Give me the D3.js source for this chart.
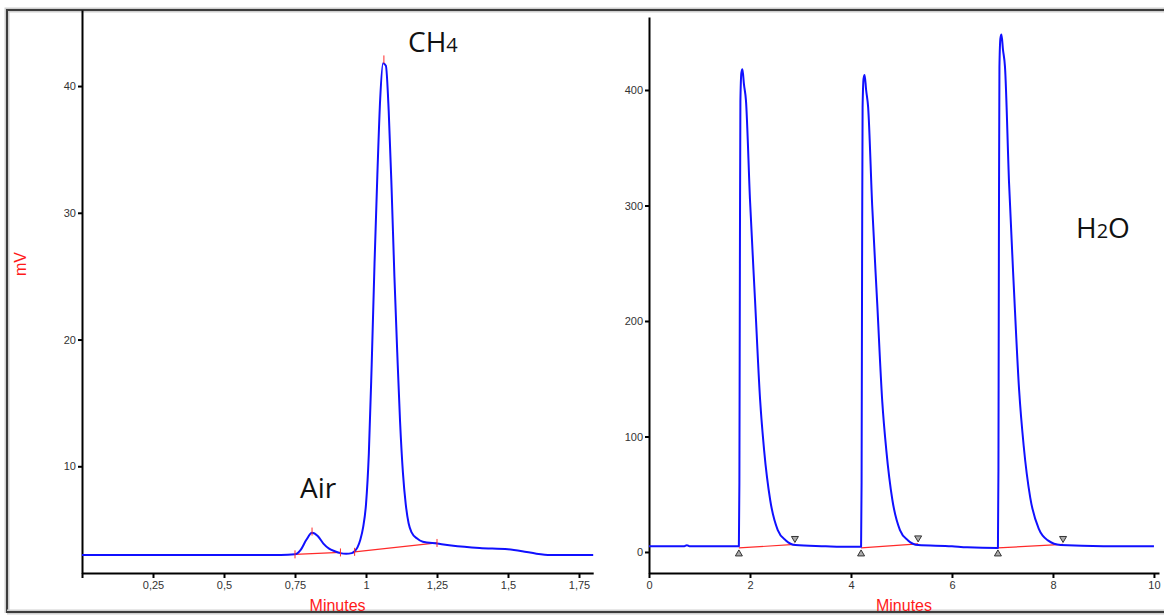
<!DOCTYPE html>
<html><head><meta charset="utf-8">
<script src="https://cdn.jsdelivr.net/npm/d3@7"></script>
<style>
html,body{margin:0;padding:0;background:#fff;}
svg{display:block;}
.tick text{font-family:"Liberation Sans",Arial,sans-serif;font-size:11px;fill:#333;}
</style></head>
<body>
<svg id="chart" width="1164" height="615"></svg>
<script>
// ---------- DATA ----------
// Left chromatogram (Air / CH4), minutes vs mV
const leftTime   = [0, 0.25, 0.5, 0.70, 0.75, 0.77, 0.79, 0.81, 0.83, 0.85, 0.87, 0.89, 0.91, 0.93, 0.95, 0.96, 0.97, 0.98, 0.99, 1.00, 1.01, 1.02, 1.03, 1.04, 1.05, 1.06, 1.07, 1.08, 1.09, 1.10, 1.11, 1.12, 1.13, 1.14, 1.15, 1.16, 1.18, 1.20, 1.25, 1.30, 1.40, 1.50, 1.55, 1.60, 1.65, 1.80];
const leftSignal = [3.0, 3.0, 3.0, 3.0, 3.05, 3.4, 4.2, 4.75, 4.5, 3.9, 3.5, 3.3, 3.15, 3.1, 3.15, 3.3, 3.6, 4.2, 5.2, 7.0, 11, 18, 26, 33, 39, 41.8, 41.6, 38, 32, 25, 19, 13.5, 9.5, 7.0, 5.5, 4.8, 4.3, 4.05, 3.9, 3.75, 3.55, 3.45, 3.3, 3.1, 3.0, 3.0];
// Left integration baselines
const leftBaseT0 = [0.75, 0.96], leftBaseV0 = [3.05, 3.25];
const leftBaseT1 = [0.91, 1.25], leftBaseV1 = [3.2, 3.95];
const leftPeakT = [0.81, 1.063], leftPeakV = [4.85, 42.1];

// Right chromatogram (H2O), minutes vs mV
const rightTime   = [0, 0.70, 0.75, 0.80, 1.77, 1.78, 1.79, 1.80, 1.81, 1.83, 1.85, 1.88, 1.92, 2.00, 2.10, 2.20, 2.28, 2.40, 2.55, 2.71, 2.90, 3.50, 3.80, 4.19, 4.20, 4.21, 4.22, 4.23, 4.25, 4.27, 4.30, 4.34, 4.42, 4.52, 4.62, 4.70, 4.82, 4.97, 5.13, 5.33, 6.00, 6.30, 6.90, 6.91, 6.92, 6.93, 6.94, 6.96, 6.98, 7.01, 7.05, 7.13, 7.23, 7.33, 7.42, 7.55, 7.72, 7.90, 8.15, 9.00, 10.0];
const rightSignal = [5, 5, 5.8, 5, 5, 5, 60, 250, 390, 415, 418, 405, 391, 305, 218, 132, 88, 45, 19, 10, 6, 5, 4.5, 4.5, 4.5, 60, 250, 385, 410, 413, 400, 385, 300, 215, 130, 88, 45, 19, 10, 6, 5, 4, 3.5, 3.5, 70, 280, 420, 445, 448, 435, 420, 320, 225, 140, 92, 47, 20, 10, 6, 5, 5];
// Right integration baselines (start / end markers)
const rightBaseT0 = [1.78, 4.20, 6.91], rightBaseV0 = [3.5, 3.5, 3.5];
const rightBaseT1 = [2.89, 5.33, 8.20], rightBaseV1 = [6.5, 7.0, 6.5];

// Ticks
const leftXTicks = [0, 0.25, 0.5, 0.75, 1, 1.25, 1.5, 1.75];
const leftXLabels = ["", "0,25", "0,5", "0,75", "1", "1,25", "1,5", "1,75"];
const leftYTicks = [10, 20, 30, 40];
const rightXTicks = [0, 2, 4, 6, 8, 10];
const rightYTicks = [0, 100, 200, 300, 400];

// ---------- DRAW ----------
const svg = d3.select("#chart");
const blue = "#1010ff", red = "#ff2a2a";

// frame
svg.append("path").attr("d", "M7,613 L7,10 L1164,10").attr("fill","none").attr("stroke","#cfcfcf").attr("stroke-width",5);
svg.append("path").attr("d", "M7,613 L7,10 L1164,10").attr("fill","none").attr("stroke","#3c3c3c").attr("stroke-width",2);
svg.append("line").attr("x1",7).attr("x2",1164).attr("y1",612).attr("y2",612).attr("stroke","#cfcfcf").attr("stroke-width",5);
svg.append("line").attr("x1",7).attr("x2",1164).attr("y1",612).attr("y2",612).attr("stroke","#3c3c3c").attr("stroke-width",2);

function panel(cfg){
  const x = d3.scaleLinear().domain(cfg.xDomain).range(cfg.xRange);
  const y = d3.scaleLinear().domain(cfg.yDomain).range(cfg.yRange);
  const g = svg.append("g");
  // x axis
  const xa = g.append("g").attr("transform", `translate(0,${cfg.yRange[0]})`)
    .call(d3.axisBottom(x).tickValues(cfg.xTicks).tickSize(5).tickSizeOuter(0).tickPadding(3)
      .tickFormat((d,i)=>cfg.xLabels ? cfg.xLabels[i] : d3.format("d")(d)));
  // y axis
  const ya = g.append("g").attr("transform", `translate(${cfg.xRange[0]},0)`)
    .call(d3.axisLeft(y).tickValues(cfg.yTicks).tickSize(4).tickSizeOuter(0).tickPadding(2).tickFormat(d3.format("d")));
  [xa, ya].forEach(a=>{
    a.select(".domain").attr("stroke","#000").attr("stroke-width",2);
    a.selectAll(".tick line").attr("stroke","#000").attr("stroke-width",2);
  });
  // baselines
  const bl = g.append("g");
  cfg.b0t.forEach((t0,i)=>{
    bl.append("line").attr("x1",x(t0)).attr("y1",y(cfg.b0v[i]))
      .attr("x2",x(cfg.b1t[i])).attr("y2",y(cfg.b1v[i]))
      .attr("stroke",red).attr("stroke-width",1.2);
  });
  // signal
  const line = d3.line().x((d,i)=>x(cfg.t[i])).y((d,i)=>y(cfg.v[i])).curve(d3.curveMonotoneX);
  g.append("path").datum(cfg.t).attr("d", line).attr("fill","none")
    .attr("stroke",blue).attr("stroke-width",2).attr("stroke-linejoin","round");
  // red tick marks
  if (cfg.ticksRed){
    const tk = [];
    cfg.b0t.forEach((t,i)=>{tk.push([t,cfg.b0v[i]]); tk.push([cfg.b1t[i],cfg.b1v[i]]);});
    cfg.peakT.forEach((t,i)=>tk.push([t,cfg.peakV[i]]));
    tk.forEach(p=>{
      g.append("line").attr("x1",x(p[0])).attr("x2",x(p[0])).attr("y1",y(p[1])-4).attr("y2",y(p[1])+4)
        .attr("stroke",red).attr("stroke-width",1);
    });
  }
  // triangle markers
  if (cfg.triangles){
    cfg.b0t.forEach((t,i)=>{
      const cx = x(t), cy = y(cfg.b0v[i]);
      g.append("path").attr("d", `M${cx},${cy+2} L${cx+3.5},${cy+8} L${cx-3.5},${cy+8} Z`)
        .attr("fill","#aaa").attr("stroke","#333").attr("stroke-width",1);
    });
    cfg.b1t.forEach((t,i)=>{
      const cx = x(t), cy = y(cfg.b1v[i]);
      g.append("path").attr("d", `M${cx-3.5},${cy-8} L${cx+3.5},${cy-8} L${cx},${cy-2} Z`)
        .attr("fill","#aaa").attr("stroke","#333").attr("stroke-width",1);
    });
  }
  // x title
  g.append("text").attr("x",(cfg.xRange[0]+cfg.xRange[1])/2 + (cfg.titleDx||0)).attr("y",611)
    .attr("text-anchor","middle").attr("fill","#ff1a1a")
    .style("font-family","'Liberation Sans',Arial,sans-serif").style("font-size","16px").text("Minutes");
  return {x,y,g};
}

panel({xDomain:[0,1.8], xRange:[82,593.2], yDomain:[1.58,46], yRange:[573,10],
  xTicks:leftXTicks, xLabels:leftXLabels, yTicks:leftYTicks,
  t:leftTime, v:leftSignal, b0t:leftBaseT0, b0v:leftBaseV0, b1t:leftBaseT1, b1v:leftBaseV1,
  peakT:leftPeakT, peakV:leftPeakV, ticksRed:true, titleDx:0});

panel({xDomain:[0,10.1], xRange:[649,1159], yDomain:[-18.2,463.2], yRange:[573,17],
  xTicks:rightXTicks, yTicks:rightYTicks,
  t:rightTime, v:rightSignal, b0t:rightBaseT0, b0v:rightBaseV0, b1t:rightBaseT1, b1v:rightBaseV1,
  triangles:true, titleDx:0});

// y title
svg.append("text").attr("transform","translate(26,264) rotate(-90)").attr("text-anchor","middle")
  .attr("fill","#ff1a1a").style("font-family","'Liberation Sans',Arial,sans-serif").style("font-size","16px").text("mV");

// peak labels
const lab = (x,y,main,sub,rest)=>{
  const t = svg.append("text").attr("x",x).attr("y",y).attr("fill","#111")
    .style("font-family","'Open Sans','Noto Sans',sans-serif").style("font-size","28px");
  t.append("tspan").text(main);
  if (sub) t.append("tspan").style("font-size","20px").text(sub);
  if (rest) t.append("tspan").text(rest);
};
lab(408,52,"CH","4","");
lab(300,498,"Air","","");
lab(1076,238,"H","2","O");
</script>
</body></html>
